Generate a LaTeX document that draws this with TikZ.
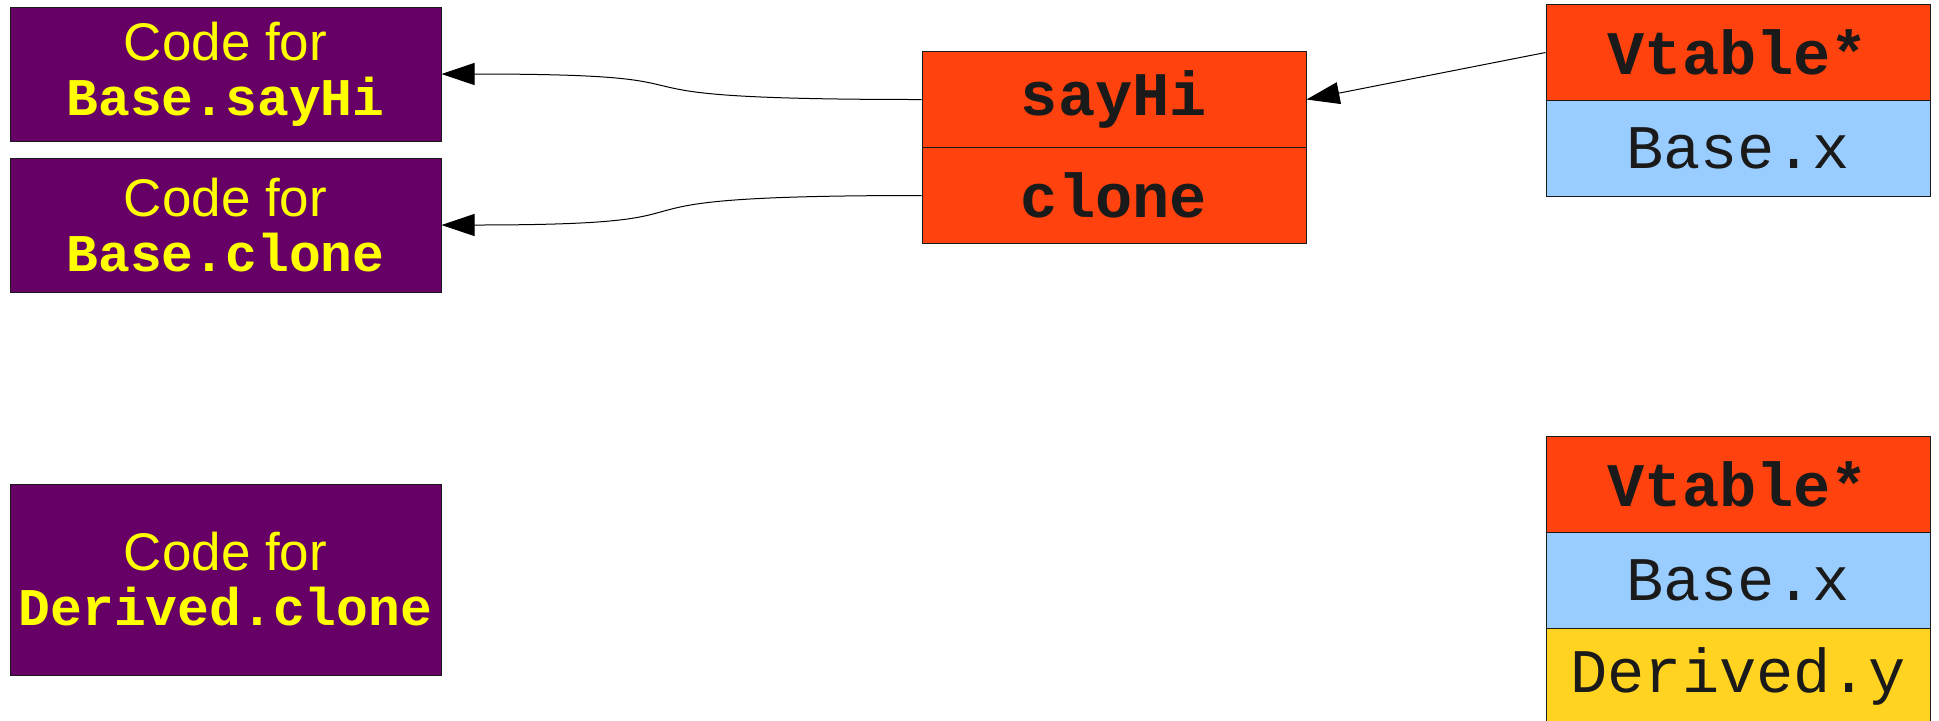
\documentclass[tikz,border=0pt]{standalone}
\usepackage{fontspec}
\setmainfont{Liberation Sans}
\setmonofont{Liberation Mono}
\usepackage{tikz}
\usetikzlibrary{arrows.meta}

\definecolor{codepurple}{HTML}{660066}
\definecolor{codeyellow}{HTML}{FFFF00}
\definecolor{vtred}{HTML}{FF420E}
\definecolor{fieldblue}{HTML}{99CCFF}
\definecolor{fieldgold}{HTML}{FFD320}
\definecolor{ink}{HTML}{1A1A1A}

\tikzset{
	codebox/.style={draw=ink, line width=0.5pt, fill=codepurple, text=codeyellow, minimum width=215.5pt,
		inner sep=0pt, align=center, font=\fontsize{26.5}{27.5}\selectfont},
	slot/.style={draw=ink, line width=0.5pt, minimum width=192pt, minimum height=48pt, inner sep=0pt,
		text=ink, font=\fontsize{31}{31}\selectfont\ttfamily},
	ptrslot/.style={slot, fill=vtred, font=\fontsize{31}{31}\selectfont\ttfamily\bfseries},
	ptr/.style={line width=0.5pt, -{Triangle[length=16.5pt,width=11pt]}}
}

\begin{document}
\begin{tikzpicture}[x=0.5pt,y=-0.5pt]
	\useasboundingbox (0,0) rectangle (1939,720);

	% code for the methods
	\node[codebox, minimum height=67pt] (codeHi) at (225.5,74) {Code for\\ \ttfamily\bfseries Base.sayHi};
	\node[codebox, minimum height=67pt] (codeClone) at (225.5,225) {Code for\\ \ttfamily\bfseries Base.clone};
	\node[codebox, minimum height=95.5pt] (codeDerived) at (225.5,579.5) {Code for\\ \ttfamily\bfseries Derived.clone};

	% the vtable
	\node[ptrslot] (vSayHi) at (1114,99.5) {sayHi};
	\node[ptrslot] (vClone) at (1114,195.5) {clone};

	% a Base object
	\node[ptrslot] (baseVptr) at (1738,52.5) {Vtable*};
	\node[slot, fill=fieldblue] (baseX) at (1738,148.5) {Base.x};

	% a Derived object
	\node[ptrslot] (derVptr) at (1738,484) {Vtable*};
	\node[slot, fill=fieldblue] (derX) at (1738,580) {Base.x};
	\node[slot, fill=fieldgold] (derY) at (1738,676) {Derived.y};

	\draw[ptr] (vSayHi.west) .. controls (542,99.5) and (771,74) .. (codeHi.east);
	\draw[ptr] (vClone.west) .. controls (542,195.5) and (771,225) .. (codeClone.east);
	\draw[ptr] (baseVptr.west) -- (vSayHi.east);
\end{tikzpicture}
\end{document}
